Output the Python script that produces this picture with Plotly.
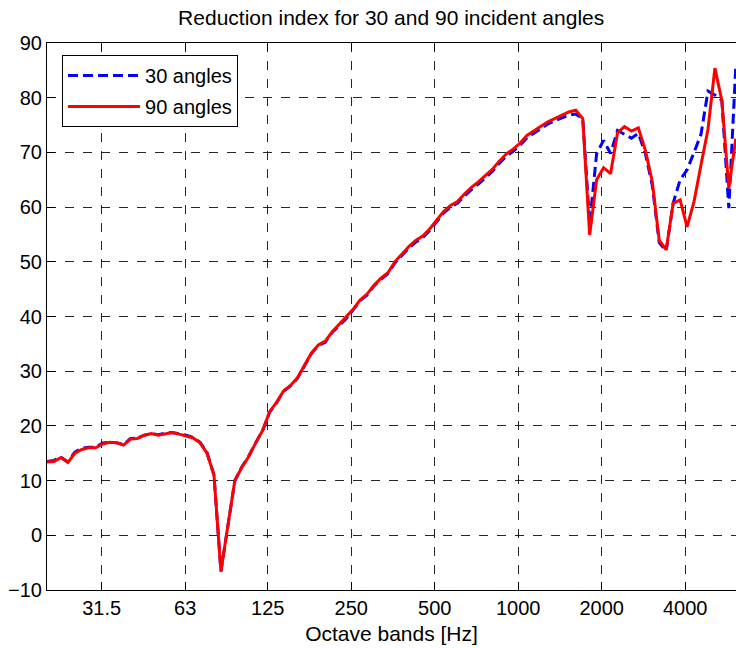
import math
import plotly.graph_objects as go

# 1/12-octave band centre frequencies [Hz]
freqs = [20.00, 21.19, 22.45, 23.78, 25.20, 26.70, 28.28, 29.97, 31.75, 33.64,
         35.64, 37.76, 40.00, 42.38, 44.90, 47.57, 50.40, 53.39, 56.57, 59.93,
         63.50, 67.27, 71.27, 75.51, 80.00, 84.76, 89.80, 95.14, 100.8, 106.8,
         113.1, 119.9, 127.0, 134.5, 142.5, 151.0, 160.0, 169.5, 179.6, 190.3,
         201.6, 213.6, 226.3, 239.7, 254.0, 269.1, 285.1, 302.0, 320.0, 339.0,
         359.2, 380.6, 403.2, 427.1, 452.5, 479.5, 508.0, 538.2, 570.2, 604.1,
         640.0, 678.1, 718.4, 761.1, 806.3, 854.3, 905.1, 958.9, 1016, 1076,
         1140, 1208, 1280, 1356, 1437, 1522, 1613, 1709, 1810, 1918,
         2032, 2153, 2281, 2416, 2560, 2712, 2874, 3044, 3225, 3417,
         3620, 3836, 4064, 4305, 4561, 4833, 5120, 5424, 5747, 6089]

r30 = [13.5, 13.7, 14.3, 13.4, 15.2, 15.9, 16.1, 16.1, 16.9, 17.0,
       16.9, 16.6, 17.7, 17.8, 18.3, 18.6, 18.4, 18.7, 18.8, 18.6,
       18.3, 17.9, 17.0, 15.1, 11.0, -6.6, 1.8, 10.0, 12.5, 14.5,
       16.9, 19.2, 22.5, 24.2, 26.3, 27.3, 28.7, 31.0, 33.2, 34.7,
       35.3, 37.1, 38.4, 39.6, 41.2, 42.9, 43.9, 45.6, 46.8, 47.8,
       49.8, 51.2, 52.5, 53.6, 54.4, 55.7, 57.4, 58.9, 60.0, 60.7,
       62.0, 63.2, 64.2, 65.4, 66.5, 68.0, 69.3, 70.2, 71.3, 72.7,
       73.5, 74.4, 75.2, 75.8, 76.3, 76.8, 77.0, 76.2, 57.0, 69.8,
       72.2, 69.8, 74.0, 73.3, 72.6, 73.5, 69.8, 64.0, 53.5, 52.0,
       60.7, 65.0, 66.8, 70.0, 73.3, 81.2, 80.5, 79.5, 59.8, 85.7]

r90 = [13.4, 13.5, 14.2, 13.3, 15.0, 15.7, 16.0, 16.0, 16.7, 17.0,
       16.9, 16.5, 17.6, 17.7, 18.3, 18.6, 18.3, 18.6, 18.8, 18.5,
       18.2, 17.8, 16.9, 15.0, 11.0, -6.6, 1.8, 10.0, 12.4, 14.4,
       16.9, 19.2, 22.6, 24.3, 26.4, 27.4, 28.8, 31.1, 33.3, 34.8,
       35.5, 37.2, 38.5, 39.8, 41.3, 43.0, 44.1, 45.7, 47.0, 48.0,
       50.0, 51.4, 52.8, 53.9, 54.7, 56.0, 57.7, 59.2, 60.3, 61.0,
       62.4, 63.6, 64.6, 65.8, 66.9, 68.4, 69.7, 70.6, 71.7, 73.1,
       74.0, 74.8, 75.6, 76.2, 76.8, 77.4, 77.7, 76.2, 54.9, 65.0,
       67.2, 66.1, 73.6, 74.7, 73.9, 74.5, 70.4, 64.7, 53.9, 52.2,
       60.7, 61.3, 56.4, 61.0, 67.7, 74.2, 85.4, 79.5, 63.4, 72.5]

tick_vals = [31.5, 63, 125, 250, 500, 1000, 2000, 4000]
tick_text = ["31.5", "63", "125", "250", "500", "1000", "2000", "4000"]
y_ticks = [-10, 0, 10, 20, 30, 40, 50, 60, 70, 80, 90]

FONT = "Liberation Sans, Arial, Helvetica, sans-serif"

fig = go.Figure()
fig.add_trace(go.Scatter(x=freqs, y=r30, mode="lines", name="30 angles",
                         legendgroup="a",
                         line=dict(color="#0000ff", width=3, dash="10px,5px")))
fig.add_trace(go.Scatter(x=freqs, y=r90, mode="lines", name="90 angles",
                         legendgroup="b",
                         line=dict(color="#ff0000", width=3)))

fig.update_layout(
    width=736, height=648,
    margin=dict(l=47, r=0, t=43, b=58),
    paper_bgcolor="white", plot_bgcolor="white",
    font=dict(family=FONT, size=20, color="black"),
    title=dict(text="Reduction index for 30 and 90 incident angles",
               x=0.5315, xanchor="center", y=1 - 18 / 648, yanchor="middle",
               yref="container", font=dict(size=21)),
    showlegend=True,
    legend=dict(x=0.0218, y=0.978, xanchor="left", yanchor="top",
                bgcolor="white", bordercolor="black", borderwidth=1,
                font=dict(size=20), tracegroupgap=2, itemwidth=72),
)
fig.update_xaxes(
    type="log", range=[math.log10(20), math.log10(6100)],
    tickvals=tick_vals, ticktext=tick_text,
    ticks="inside", ticklen=8, tickcolor="black",
    showline=True, linecolor="black", linewidth=1, mirror="ticks",
    showgrid=True, gridcolor="rgba(0,0,0,0.85)", griddash="dash", gridwidth=1,
    zeroline=False,
    title=dict(text="Octave bands [Hz]", standoff=8, font=dict(size=21)),
)
fig.update_yaxes(
    range=[-10, 90], tickvals=y_ticks,
    ticks="inside", ticklen=8, tickcolor="black",
    showline=True, linecolor="black", linewidth=1, mirror=False,
    showgrid=True, gridcolor="rgba(0,0,0,0.85)", griddash="dash", gridwidth=1,
    zeroline=False,
)

fig.write_html("out.html",
               config={"displayModeBar": False},
               post_script="document.body.style.margin='0';document.body.style.overflow='hidden';")
